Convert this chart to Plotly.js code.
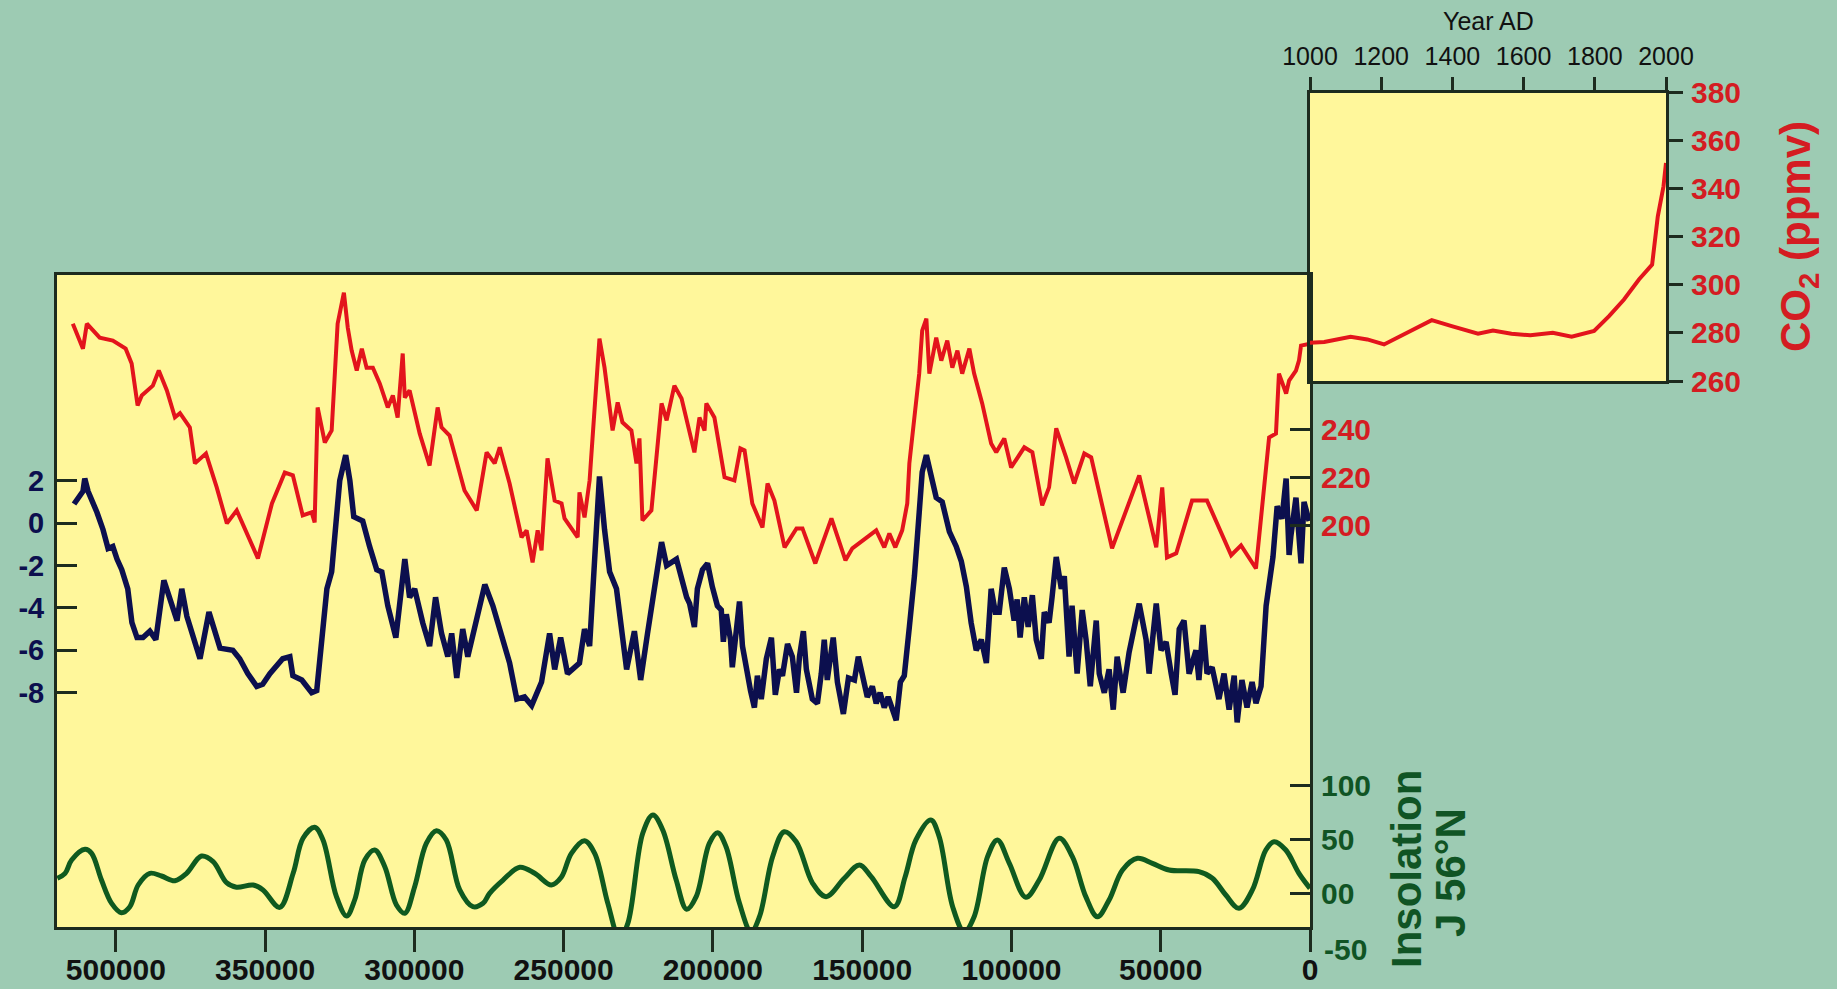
<!DOCTYPE html>
<html>
<head>
<meta charset="utf-8">
<script src="https://cdn.plot.ly/plotly-3.0.1.min.js"></script>
<style>
  html, body { margin: 0; padding: 0; background: #9dcbb3; }
  #chart { width: 1837px; height: 989px; }
</style>
</head>
<body>
<div id="chart"></div>
<script>
// ---- Data (ages in thousands of years before present) ----
const co2Age = [
  414.4,411.0,409.7,405.4,401.0,396.7,394.7,392.7,391.3,387.6,
  385.6,382.9,380.2,378.5,375.2,373.5,369.8,366.2,362.8,359.5,
  352.4,347.7,343.4,340.7,337.4,334.4,333.4,332.4,330.0,327.7,
  325.7,323.6,322.3,321.0,319.3,317.6,316.0,313.9,311.6,308.9,
  307.2,305.6,303.9,303.2,301.6,298.2,294.9,292.2,290.9,288.2,
  283.2,279.1,275.8,273.1,271.4,268.1,264.1,262.4,260.4,258.7,
  257.4,255.4,253.0,250.7,249.7,245.3,244.7,243.0,241.3,238.0,
  236.3,233.6,231.9,230.3,227.3,225.6,224.6,223.6,220.6,217.2,
  215.5,212.9,210.5,207.8,206.2,204.5,202.8,202.2,199.5,196.1,
  192.8,190.8,189.4,186.8,183.4,181.7,179.4,176.0,172.0,170.0,
  165.7,160.3,155.6,153.3,145.3,142.6,140.9,138.9,136.6,134.9,
  134.2,130.9,129.9,128.5,127.5,125.2,123.5,121.5,119.8,118.1,
  116.5,114.1,112.5,109.8,106.8,105.1,102.4,100.1,95.7,93.0,
  89.7,87.4,85.0,81.7,79.0,75.6,73.3,66.3,57.2,51.5,
  49.5,47.9,44.8,39.5,34.5,26.4,23.1,18.1,16.1,13.7,
  11.4,10.4,8.0,7.0,4.7,3.7,3.0,0.0
];
const co2Val = [
  284.0,273.6,284.0,278.2,277.0,273.6,267.4,249.9,254.1,258.2,
  264.5,256.2,245.0,246.7,240.8,225.8,229.9,215.8,200.8,206.2,
  186.2,209.1,222.0,220.8,204.1,205.4,201.2,249.1,234.5,239.5,
  284.0,296.9,282.3,272.8,264.5,273.6,265.7,265.7,259.1,249.1,
  254.1,244.9,271.6,253.2,256.2,238.2,224.9,249.1,240.8,237.4,
  214.5,206.2,230.4,225.8,232.5,217.4,195.0,197.9,184.5,197.9,
  189.5,227.9,210.3,209.1,202.9,195.0,213.7,203.3,218.7,277.8,
  265.7,239.5,251.2,242.9,239.5,225.8,236.2,202.0,206.2,250.8,
  243.7,258.2,252.8,238.2,230.4,244.9,239.5,250.8,244.9,220.0,
  218.7,232.0,231.2,209.1,199.1,217.4,210.3,190.8,198.7,198.7,
  184.1,202.9,185.4,190.4,197.9,190.8,196.6,190.8,197.9,209.1,
  225.8,263.2,281.1,286.1,263.2,278.2,268.6,277.0,265.7,272.8,
  263.2,273.6,263.2,250.8,234.1,230.4,236.2,224.1,232.5,230.4,
  208.3,215.8,240.4,228.3,217.4,229.9,228.3,190.4,220.8,190.8,
  215.8,186.6,188.3,210.3,210.3,187.5,191.6,182.0,206.2,236.6,
  238.2,263.2,254.9,260.3,264.5,268.6,274.9,275.7
];

const tempAge = [
  414.0,411.0,410.4,409.3,406.3,404.3,402.6,401.0,399.6,398.0,
  396.0,394.6,392.9,390.9,388.6,386.6,383.9,380.9,379.5,377.9,
  376.2,371.8,368.8,365.1,360.8,358.5,355.8,352.8,350.8,348.4,
  344.1,341.7,340.7,337.7,334.4,332.7,329.3,327.7,325.0,323.0,
  321.6,320.3,317.3,315.0,
  312.6,310.9,308.9,306.2,303.2,301.6,299.9,297.2,294.9,292.9,
  290.9,288.8,287.5,285.8,283.8,282.1,280.4,276.4,273.7,270.4,
  268.1,265.7,263.1,260.7,257.4,254.7,253.0,251.0,248.7,244.7,
  243.0,241.3,238.0,236.3,234.6,232.3,228.9,226.3,224.2,221.9,
  219.6,217.2,215.5,212.2,208.8,
  207.8,206.2,205.2,203.5,201.8,200.2,198.5,197.2,196.5,195.5,
  194.1,193.5,192.1,191.1,190.1,188.8,187.4,186.1,185.1,183.8,
  182.1,180.4,179.1,177.7,176.7,175.0,173.4,172.0,171.0,169.7,
  168.7,166.7,165.0,163.7,162.7,161.7,159.7,158.3,156.3,154.6,
  152.6,151.3,149.6,148.3,146.6,145.3,144.0,142.6,141.3,139.9,
  138.6,137.2,135.9,134.2,132.5,
  130.9,129.9,128.5,126.9,125.2,123.2,120.8,118.5,
  116.8,115.1,113.5,111.8,110.1,108.4,106.8,105.4,
  104.1,102.4,100.7,99.1,98.1,97.1,95.7,94.4,93.0,91.7,
  90.0,89.0,87.4,86.4,85.0,83.3,82.3,80.7,79.7,78.0,
  76.3,75.0,73.6,71.6,70.6,68.9,67.3,65.9,64.6,62.6,
  60.6,57.2,54.9,53.9,51.5,49.9,48.2,46.5,45.2,43.8,
  42.2,40.5,38.2,37.2,35.8,34.5,32.8,30.5,28.8,27.1,
  25.4,24.4,22.8,21.1,19.4,18.1,16.4,14.7,13.4,12.4,
  11.0,9.4,8.0,7.0,6.4,4.7,3.0,2.0,0.3
];
const tempVal = [
  0.9,1.5,2.1,1.5,0.5,-0.3,-1.2,-1.1,-1.7,-2.2,
  -3.1,-4.7,-5.4,-5.4,-5.1,-5.5,-2.7,-4.1,-4.6,-3.1,
  -4.4,-6.4,-4.2,-5.9,-6.0,-6.4,-7.1,-7.7,-7.6,-7.1,
  -6.4,-6.3,-7.2,-7.4,-8.0,-7.9,-3.1,-2.3,2.0,3.2,
  2.0,0.3,0.1,-1.1,
  -2.2,-2.3,-3.9,-5.4,-1.7,-3.5,-3.1,-4.7,-5.8,-3.5,
  -5.2,-6.3,-5.2,-7.3,-5.0,-6.3,-5.2,-2.9,-3.9,-5.6,
  -6.6,-8.3,-8.2,-8.6,-7.5,-5.2,-6.9,-5.4,-7.1,-6.6,
  -5.0,-5.8,2.2,-0.3,-2.3,-3.1,-6.9,-5.1,-7.4,-5.2,
  -3.0,-0.9,-2.0,-1.7,-3.5,
  -3.8,-4.9,-3.1,-2.2,-1.9,-3.0,-3.9,-4.1,-5.6,-4.3,
  -5.5,-6.8,-5.0,-3.7,-5.8,-6.9,-7.9,-8.7,-7.2,-8.3,
  -6.4,-5.4,-8.1,-6.9,-7.2,-5.7,-6.3,-8.0,-6.3,-5.1,
  -6.9,-8.3,-8.5,-7.1,-5.5,-7.4,-5.4,-7.5,-9.0,-7.3,
  -7.4,-6.3,-7.5,-8.2,-7.7,-8.5,-8.0,-8.7,-8.2,-8.8,
  -9.3,-7.5,-7.2,-4.9,-2.5,
  0.5,2.4,3.2,2.2,1.2,1.0,-0.4,-1.1,
  -1.8,-3.0,-4.7,-6.0,-5.5,-6.6,-3.1,-4.2,
  -4.2,-2.1,-3.1,-4.6,-3.6,-5.4,-3.5,-4.9,-3.4,-5.5,
  -6.4,-4.2,-4.7,-3.5,-1.6,-3.1,-2.5,-6.3,-3.9,-7.1,
  -4.1,-5.5,-7.7,-4.6,-7.1,-8.0,-6.9,-8.8,-6.3,-8.0,
  -6.1,-3.8,-5.5,-7.1,-3.8,-6.0,-5.6,-7.1,-8.1,-5.0,
  -4.6,-7.1,-6.0,-7.4,-4.8,-7.1,-6.8,-8.3,-7.1,-8.8,
  -7.2,-9.4,-7.4,-8.7,-7.5,-8.5,-7.7,-3.9,-2.3,-1.6,
  0.8,0.2,2.1,-1.5,-0.6,1.2,-1.9,1.0,0.1
];

const insolAge = [
  419.6,417.0,414.8,410.3,408.1,404.8,401.4,398.1,395.3,392.5,
  388.6,384.7,380.2,376.3,371.3,367.4,362.9,359.6,354.0,350.7,
  345.1,340.6,337.3,333.4,330.6,326.1,322.7,320.0,316.6,313.3,
  309.9,306.0,303.2,299.9,296.0,292.6,289.3,284.8,280.4,277.0,
  274.8,
  270.3,264.7,259.7,254.1,250.8,247.4,243.0,239.6,235.2,231.3,
  228.5,223.5,220.1,216.8,212.3,208.8,205.6,201.2,198.4,195.6,
  191.1,187.2,184.4,180.0,176.1,172.1,166.6,162.1,156.0,150.9,
  147.0,139.2,135.6,
  132.0,127.0,124.2,119.7,115.8,112.5,108.0,104.7,100.7,95.2,
  90.7,84.0,79.6,75.1,71.2,67.3,62.8,57.8,52.8,47.2,
  37.2,32.7,28.2,23.8,19.3,14.8,12.0,8.1,3.7,0.0
];
const insolVal = [
  13.9,18.5,30.8,40.7,37.0,12.3,-9.3,-18.0,-12.4,7.7,
  18.5,16.0,11.7,18.5,34.5,29.3,9.8,5.6,7.7,3.1,
  -13.0,18.5,50.9,61.1,49.4,-3.1,-21.0,-6.2,30.8,40.1,
  24.6,-10.8,-18.5,6.1,46.3,58.0,49.4,3.1,-12.4,-9.3,
  0.0,
  12.3,24.1,18.5,7.7,14.8,37.0,48.7,37.0,-9.3,-41.7,
  -27.8,55.6,72.5,58.6,12.3,-14.8,-3.1,46.3,56.1,43.1,
  -9.3,-35.6,-21.7,33.9,57.0,47.8,9.3,-3.1,13.9,26.2,
  15.4,-12.4,15.4,
  49.4,67.9,52.4,-12.4,-35.6,-21.7,33.9,49.4,27.8,-3.7,
  12.3,50.9,33.9,-3.1,-21.7,-6.2,21.6,32.4,27.8,21.6,
  20.0,13.9,-1.6,-13.9,3.1,40.1,47.8,40.1,18.5,4.6
];

const modernYear = [1000,1040,1114,1161,1208,1272,1342,1398,1472,1514,1566,1619,1682,1735,1798,1840,1882,1924,1961,1977,1993,2000];
const modernCO2  = [275.9,276.2,278.4,277.3,275.2,280.1,285.3,282.8,279.7,281.0,279.7,279.0,280.1,278.4,280.8,287.0,293.9,302.2,308.4,328.5,341.0,350.7];

// Tick labels (as printed on the original, including its first label)
const ageTickVals  = [400,350,300,250,200,150,100,50,0];
const ageTickText  = ["500000","350000","300000","250000","200000","150000","100000","50000","0"];
const tempTickVals = [2,0,-2,-4,-6,-8];
const tempTickText = ["2","0","-2","-4","-6","-8"];
const co2MainTicks = [200,220,240];
const insolTickVals = [0,50,100];
const insolTickText = ["00","50","100"];
const yearTicks = [1000,1200,1400,1600,1800,2000];
const co2InsetTicks = [260,280,300,320,340,360,380];

// ---- Styling ----
const FONT = 'Liberation Sans, Arial, Helvetica, sans-serif';
const DARK = '#1d2b1e';
const NAVY = '#0c0f4e';
const RED = '#e3141c';
const RED_TXT = '#d41c22';
const GREEN = '#0f5a1f';
const GREEN_TXT = '#105424';
const W = 1837, H = 989;
const px = v => v / W;
const py = v => (H - v) / H;

const traces = [
  { x: insolAge, y: insolVal, xaxis: 'x', yaxis: 'y3', type: 'scatter', mode: 'lines',
    line: { color: GREEN, width: 5, shape: 'spline', smoothing: 1 }, hoverinfo: 'skip' },
  { x: co2Age, y: co2Val, xaxis: 'x', yaxis: 'y2', type: 'scatter', mode: 'lines',
    line: { color: RED, width: 4 }, hoverinfo: 'skip' },
  { x: tempAge, y: tempVal, xaxis: 'x', yaxis: 'y', type: 'scatter', mode: 'lines',
    line: { color: NAVY, width: 5.5 }, hoverinfo: 'skip' },
  { x: modernYear, y: modernCO2, xaxis: 'x2', yaxis: 'y4', type: 'scatter', mode: 'lines',
    line: { color: RED, width: 4 }, hoverinfo: 'skip' }
];

const common = { showgrid: false, zeroline: false, fixedrange: true };

const layout = {
  width: W, height: H,
  margin: { l: 0, r: 0, t: 0, b: 0 },
  paper_bgcolor: '#9dcbb3',
  plot_bgcolor: '#fff79b',
  showlegend: false,
  xaxis: Object.assign({}, common, {
    domain: [px(57), px(1310)], range: [419.7, 0], anchor: 'y',
    tickmode: 'array', tickvals: ageTickVals, ticktext: ageTickText,
    ticks: 'outside', ticklen: 22, tickwidth: 3, tickcolor: DARK, ticklabelstandoff: -8,
    tickfont: { family: FONT, size: 30, color: '#111111', weight: 'bold' },
    showline: true, linecolor: DARK, linewidth: 3, mirror: true
  }),
  yaxis: Object.assign({}, common, {
    domain: [py(927), py(275)], range: [-19.05, 11.7], anchor: 'x', side: 'left',
    tickmode: 'array', tickvals: tempTickVals, ticktext: tempTickText,
    ticks: 'inside', ticklen: 20, tickwidth: 3, tickcolor: DARK, ticklabelstandoff: 4,
    tickfont: { family: FONT, size: 29, color: NAVY, weight: 'bold' },
    showline: true, linecolor: DARK, linewidth: 3, mirror: true
  }),
  yaxis2: Object.assign({}, common, {
    overlaying: 'y', side: 'right', anchor: 'x', range: [32.6, 304.3],
    tickmode: 'array', tickvals: co2MainTicks,
    ticks: 'inside', ticklen: 20, tickwidth: 3, tickcolor: DARK, ticklabelstandoff: 10,
    tickfont: { family: FONT, size: 30, color: RED_TXT, weight: 'bold' },
    showline: false
  }),
  yaxis3: Object.assign({}, common, {
    overlaying: 'y', side: 'right', anchor: 'x', range: [-31.2, 572.5],
    tickmode: 'array', tickvals: insolTickVals, ticktext: insolTickText,
    ticks: 'inside', ticklen: 20, tickwidth: 3, tickcolor: DARK, ticklabelstandoff: 10,
    tickfont: { family: FONT, size: 30, color: GREEN_TXT, weight: 'bold' },
    showline: false
  }),
  xaxis2: Object.assign({}, common, {
    domain: [px(1310), px(1666)], range: [1000, 2000], anchor: 'y4', side: 'top',
    tickmode: 'array', tickvals: yearTicks,
    ticks: 'outside', ticklen: 13, tickwidth: 3, tickcolor: DARK, ticklabelstandoff: 2,
    tickfont: { family: FONT, size: 25, color: '#111111' },
    showline: true, linecolor: DARK, linewidth: 3, mirror: true
  }),
  yaxis4: Object.assign({}, common, {
    domain: [py(381), py(92.5)], range: [260, 380], anchor: 'x2', side: 'right',
    tickmode: 'array', tickvals: co2InsetTicks,
    ticks: 'outside', ticklen: 14, tickwidth: 3, tickcolor: DARK, ticklabelstandoff: 2,
    tickfont: { family: FONT, size: 30, color: RED_TXT, weight: 'bold' },
    showline: true, linecolor: DARK, linewidth: 3, mirror: true
  }),
  annotations: [
    { text: 'CO<sub>2</sub> (ppmv)', xref: 'paper', yref: 'paper', x: px(1798), y: py(237),
      textangle: -90, showarrow: false, xanchor: 'center', yanchor: 'middle',
      font: { family: FONT, size: 42, color: RED_TXT, weight: 'bold' } },
    { text: 'Insolation', xref: 'paper', yref: 'paper', x: px(1406), y: py(869),
      textangle: -90, showarrow: false, xanchor: 'center', yanchor: 'middle',
      font: { family: FONT, size: 42, color: GREEN_TXT, weight: 'bold' } },
    { text: 'J 56°N', xref: 'paper', yref: 'paper', x: px(1450), y: py(873),
      textangle: -90, showarrow: false, xanchor: 'center', yanchor: 'middle',
      font: { family: FONT, size: 42, color: GREEN_TXT, weight: 'bold' } },
    { text: 'Year AD', xref: 'paper', yref: 'paper', x: px(1488), y: py(21),
      showarrow: false, xanchor: 'center', yanchor: 'middle',
      font: { family: FONT, size: 25, color: '#111111' } },
    { text: '-50', xref: 'paper', yref: 'paper', x: px(1322), y: py(949),
      showarrow: false, xanchor: 'left', yanchor: 'middle',
      font: { family: FONT, size: 30, color: GREEN_TXT, weight: 'bold' } }
  ]
};

Plotly.newPlot('chart', traces, layout, { staticPlot: true, displayModeBar: false });
</script>
</body>
</html>
